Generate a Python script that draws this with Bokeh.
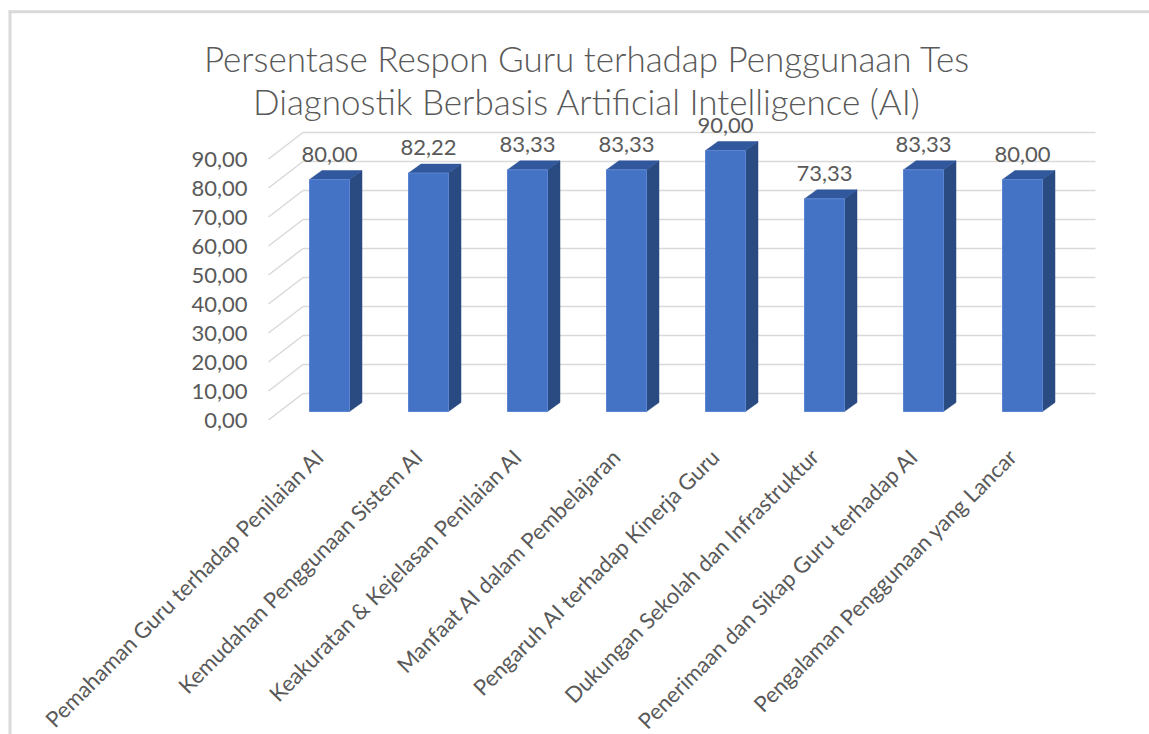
import math
from bokeh.plotting import figure
from bokeh.models import Range1d
from bokeh.core.properties import value
from bokeh.embed import file_html
from bokeh.resources import INLINE

# ---------------- data ----------------
categories = [
    "Pemahaman Guru terhadap Penilaian AI",
    "Kemudahan Penggunaan Sistem AI",
    "Keakuratan & Kejelasan Penilaian AI",
    "Manfaat AI dalam Pembelajaran",
    "Pengaruh AI terhadap Kinerja Guru",
    "Dukungan Sekolah dan Infrastruktur",
    "Penerimaan dan Sikap Guru terhadap AI",
    "Pengalaman Penggunaan yang Lancar",
]
values = [80.00, 82.22, 83.33, 83.33, 90.00, 73.33, 83.33, 80.00]
y_ticks = [0, 10, 20, 30, 40, 50, 60, 70, 80, 90]
title_lines = [
    "Persentase Respon Guru terhadap Penggunaan Tes",
    "Diagnostik Berbasis Artificial Intelligence (AI)",
]

def fmt(v):
    return f"{v:.2f}".replace(".", ",")

value_labels = [fmt(v) for v in values]
y_tick_labels = [fmt(t) for t in y_ticks]

# ---------------- layout (pixel based) ----------------
PAGE_MARGIN = 0
W, H = 1149, 734
CAT_PX = 99.0      # pixels per category step
VAL_PX = 2.9       # pixels per value unit
X0_PAGE = 329.0    # x of first category (bar front centre)
Y0_PAGE = 419.5    # y of value 0 on the front plane

x_start = (PAGE_MARGIN - X0_PAGE) / CAT_PX
x_end = x_start + W / CAT_PX
y_end = (Y0_PAGE - PAGE_MARGIN) / VAL_PX
y_start = y_end - H / VAL_PX

def px_x(page_x):
    return (page_x - X0_PAGE) / CAT_PX

def px_y(page_y):
    return (Y0_PAGE - page_y) / VAL_PX

BAR_HALF = 20 / CAT_PX
BAR_DX = 12.5 / CAT_PX
BAR_DY = 9.0 / VAL_PX
BAR_BASE = 8.5 / VAL_PX
BACK_DX = 34.5 / CAT_PX
BACK_DY = 26.5 / VAL_PX
WALL_LEFT = px_x(268)
WALL_RIGHT = px_x(1095)
LABEL_GAP = 25.5 / VAL_PX
CAT_LABEL_DX = -10 / CAT_PX

TEXT_COLOR = "#595959"
GRID_COLOR = "#d9d9d9"
FONT = "Lato"

p = figure(
    width=W, height=H,
    x_range=Range1d(x_start, x_end), y_range=Range1d(y_start, y_end),
    x_axis_type=None, y_axis_type=None,
    toolbar_location=None, output_backend="svg",
    min_border=0, outline_line_color=None,
    background_fill_color="white", border_fill_color="white",
)

# chart-area border (top and left edges visible)
p.segment(x0=[px_x(8)], y0=[px_y(11.3)], x1=[x_end], y1=[px_y(11.3)],
          line_color=GRID_COLOR, line_width=3)
p.segment(x0=[px_x(9.5)], y0=[px_y(10)], x1=[px_x(9.5)], y1=[y_start],
          line_color=GRID_COLOR, line_width=3)

# 3D walls: diagonal side-wall lines and back-wall gridlines
p.segment(x0=[WALL_LEFT] * len(y_ticks), y0=y_ticks,
          x1=[WALL_LEFT + BACK_DX] * len(y_ticks), y1=[t + BACK_DY for t in y_ticks],
          line_color=GRID_COLOR, line_width=1.5)
p.segment(x0=[WALL_LEFT + BACK_DX] * len(y_ticks), y0=[t + BACK_DY for t in y_ticks],
          x1=[WALL_RIGHT] * len(y_ticks), y1=[t + BACK_DY for t in y_ticks],
          line_color=GRID_COLOR, line_width=1.5)

xs = list(range(len(values)))

side_xs, side_ys, top_xs, top_ys = [], [], [], []
for x, v in zip(xs, values):
    r = x + BAR_HALF
    l = x - BAR_HALF
    side_xs.append([r, r + BAR_DX, r + BAR_DX, r])
    side_ys.append([BAR_BASE, BAR_BASE + BAR_DY, v + BAR_BASE + BAR_DY, v + BAR_BASE])
    top_xs.append([l, r, r + BAR_DX, l + BAR_DX])
    top_ys.append([v + BAR_BASE, v + BAR_BASE, v + BAR_BASE + BAR_DY, v + BAR_BASE + BAR_DY])

p.patches(side_xs, side_ys, fill_color="#2a4a82", line_color="#2a4a82", line_width=0.5)
p.patches(top_xs, top_ys, fill_color="#31579c", line_color="#31579c", line_width=0.5)
p.quad(left=[x - BAR_HALF for x in xs], right=[x + BAR_HALF for x in xs],
       bottom=[BAR_BASE] * len(xs), top=[v + BAR_BASE for v in values],
       fill_color="#4472c4", line_color="#5b85d0", line_width=1)

# data labels
p.text(x=xs, y=[v + BAR_BASE + LABEL_GAP for v in values], text=value_labels,
       text_align="center", text_baseline="middle", text_color=TEXT_COLOR,
       text_font=value(FONT), text_font_size="22px")

# y tick labels
p.text(x=[px_x(247)] * len(y_ticks), y=y_ticks, text=y_tick_labels,
       text_align="right", text_baseline="middle", text_color=TEXT_COLOR,
       text_font=value(FONT), text_font_size="22px")

# category labels (rotated 45 degrees)
p.text(x=[x + CAT_LABEL_DX for x in xs], y=[px_y(452)] * len(xs), text=categories,
       angle=math.pi / 4, text_align="right", text_baseline="middle",
       text_color=TEXT_COLOR, text_font=value(FONT), text_font_size="22px")

# title
p.text(x=[px_x(586.5)] * 2, y=[px_y(57), px_y(100)], text=title_lines,
       text_align="center", text_baseline="middle", text_color=TEXT_COLOR,
       text_font=value("Lato Light"), text_font_size="35px")

open("out.html", "w").write(file_html(p, INLINE))
